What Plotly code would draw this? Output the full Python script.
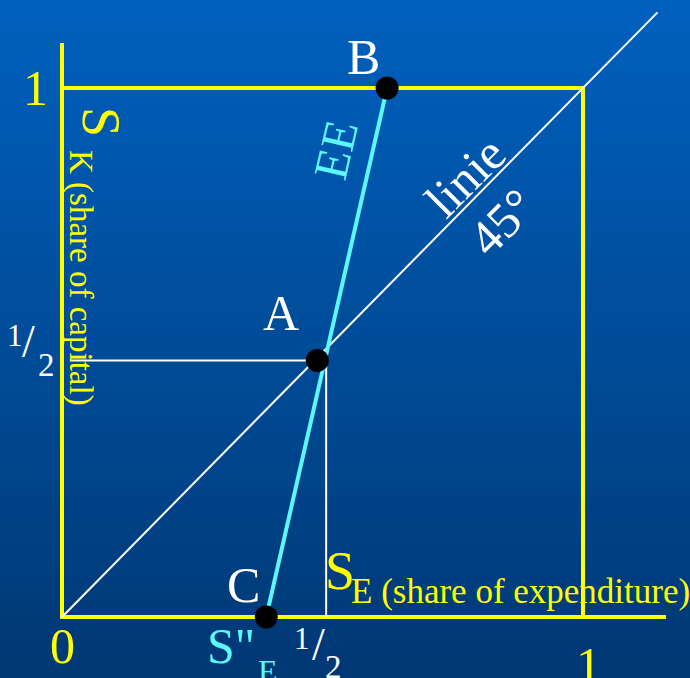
import plotly.graph_objects as go

# diagram values (shares, 0..1)
diag_x = [0, 1.143]
diag_y = [0, 1.143]
ee_x = [0.392, 0.624]   # C -> B
ee_y = [0.0, 1.0]
point_names = ["A", "B", "C"]
point_x = [0.49, 0.624, 0.392]
point_y = [0.485, 1.0, 0.0]
guide_h = [0.015, 0.49]  # horizontal guide at y of A
guide_v = [0.0, 0.485]   # vertical guide at x = 1/2
guide_vx = 0.507

W, H = 690, 678
X0, X1 = 62, 583   # px of share 0 and 1
Y0, Y1 = 617, 88


def dx(px):
    return (px - X0) / (X1 - X0)


def dy(py):
    return (Y0 - py) / (Y0 - Y1)


YELLOW = "#ffff00"
CYAN = "#5cf8ff"
WHITE = "#ffffff"
SERIF = "Liberation Serif, Times New Roman, serif"

fig = go.Figure()

# axes and box
fig.add_trace(go.Scatter(x=[0, 0], y=[0, dy(43)], mode="lines",
                         line=dict(color=YELLOW, width=4), hoverinfo="skip"))
fig.add_trace(go.Scatter(x=[dx(60), dx(666)], y=[0, 0], mode="lines",
                         line=dict(color=YELLOW, width=4), hoverinfo="skip"))
fig.add_trace(go.Scatter(x=[0, 1, 1], y=[1, 1, 0], mode="lines",
                         line=dict(color=YELLOW, width=4), hoverinfo="skip"))

# 45 degree line
fig.add_trace(go.Scatter(x=diag_x, y=diag_y, mode="lines",
                         line=dict(color=WHITE, width=2), hoverinfo="skip"))

# guides through A
fig.add_trace(go.Scatter(x=guide_h, y=[point_y[0], point_y[0]], mode="lines",
                         line=dict(color=WHITE, width=2), hoverinfo="skip"))
fig.add_trace(go.Scatter(x=[guide_vx, guide_vx], y=guide_v, mode="lines",
                         line=dict(color=WHITE, width=2), hoverinfo="skip"))

# EE curve
fig.add_trace(go.Scatter(x=ee_x, y=ee_y, mode="lines",
                         line=dict(color=CYAN, width=4), hoverinfo="skip"))

# points
fig.add_trace(go.Scatter(x=point_x, y=point_y, mode="markers",
                         marker=dict(color="black", size=23),
                         text=point_names, hoverinfo="text"))


def label(text, px, py, color, size, angle=0):
    fig.add_annotation(x=dx(px), y=dy(py), text=text, showarrow=False,
                       textangle=angle, xanchor="center", yanchor="middle",
                       font=dict(family=SERIF, size=size, color=color))


# point names
label("A", 281, 313, WHITE, 50)
label("B", 363, 57, WHITE, 50)
label("C", 243, 585, WHITE, 50)

# axis numbers
label("1", 35, 88, YELLOW, 50)
label("0", 62, 646, YELLOW, 50)
label("1", 588, 665, YELLOW, 50)

label("1", 15, 335, WHITE, 31)
label("/", 28, 341, WHITE, 46)
label("2", 46, 365, WHITE, 33)

label("1", 302, 638, WHITE, 31)
label("/", 318, 644, WHITE, 46)
label("2", 333, 667, WHITE, 33)

# axis titles
label("S", 101, 122, YELLOW, 54, 90)
label("K (share of capital)", 81, 278, YELLOW, 33, 90)
label("S", 340, 571, YELLOW, 54)
label("E (share of expenditure)", 520, 591, YELLOW, 35)
label('S"', 231, 646, CYAN, 50)
label("E", 268, 671, CYAN, 32)

# line names
label("EE", 335, 150, CYAN, 48, -77)
label("linie", 465, 177, WHITE, 50, -45)
label("45°", 502, 222, WHITE, 50, -45)

# background gradient
top = (0, 96, 190)
bot = (0, 56, 116)
n = 60
for i in range(n):
    t = i / (n - 1)
    c = tuple(round(top[k] + (bot[k] - top[k]) * t) for k in range(3))
    fig.add_shape(type="rect", xref="paper", yref="paper",
                  x0=0, x1=1, y0=1 - (i + 1) / n, y1=1 - i / n + 0.001,
                  fillcolor="rgb(%d,%d,%d)" % c, line=dict(width=0),
                  layer="below")

fig.update_layout(
    width=W, height=H,
    margin=dict(l=0, r=0, t=0, b=0),
    showlegend=False,
    paper_bgcolor="rgb(0,76,152)",
    plot_bgcolor="rgba(0,0,0,0)",
    xaxis=dict(range=[dx(0), dx(W)], visible=False, fixedrange=True),
    yaxis=dict(range=[dy(H), dy(0)], visible=False, fixedrange=True),
)

fig.write_html("out.html", config={"displayModeBar": False},
               post_script="document.body.style.margin='0';")
